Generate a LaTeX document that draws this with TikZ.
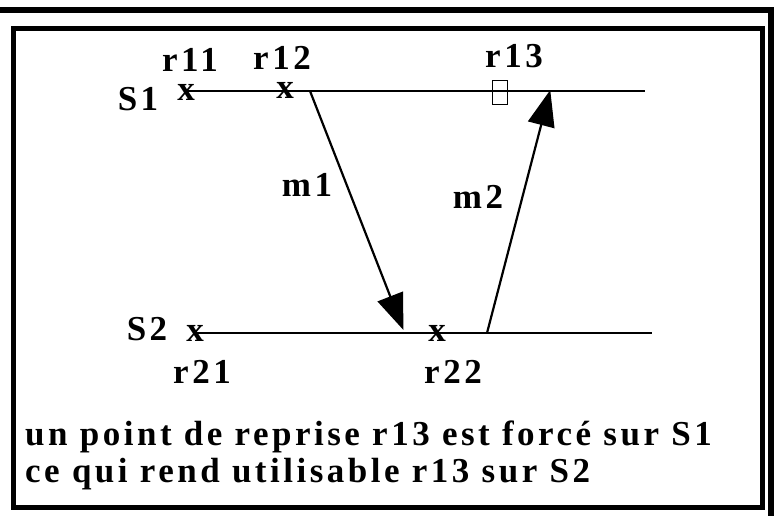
\documentclass[tikz,border=0pt]{standalone}
\usepackage{fontspec}
\setmainfont{Liberation Serif}[LetterSpace=10]
\usetikzlibrary{arrows.meta,positioning}
\tikzset{
  lbl/.style={font=\fontsize{35}{37}\selectfont\bfseries, inner sep=0pt, anchor=base},
  axis/.style={line width=2.2pt},
  msg/.style={line width=2.2pt, -{Triangle[length=36pt,width=27pt]}, shorten >=-1pt},
}
\begin{document}
\begin{tikzpicture}[x=1pt,y=-1pt]
  \useasboundingbox (0,0) rectangle (775,515);
  % frames
  \draw[line width=6pt] (0,9.5) -- (771,9.5) -- (771,520);
  \draw[line width=5pt] (13.5,28.5) rectangle (762.5,507.5);

  % time lines
  \coordinate (s1a) at (185,91);
  \coordinate (s1b) at (645,91);
  \coordinate (s2a) at (193,333);
  \coordinate (s2b) at (652,333);
  \draw[axis] (s1a) -- (s1b);
  \draw[axis] (s2a) -- (s2b);
  \node[lbl] (S1) at (138,110) {S1};
  \node[lbl] (S2) at (147,340) {S2};

  % checkpoints
  \node[lbl] (x11) at (186,100) {x};
  \node[lbl] (x12) at (285,98) {x};
  \node[draw, line width=1.6pt, minimum width=15pt, minimum height=24pt, inner sep=0pt] (b13) at (500,92.5) {};
  \node[lbl] (x21) at (195,341) {x};
  \node[lbl] (x22) at (437,341) {x};
  \node[lbl] (r11) at (190,71) {r11};
  \node[lbl] (r12) at (282,69) {r12};
  \node[lbl] (r13) at (514,67) {r13};
  \node[lbl] (r21) at (202,383) {r21};
  \node[lbl] (r22) at (453,383) {r22};

  % messages
  \coordinate (m1s) at (310,91);
  \coordinate (m1e) at (403,329);
  \coordinate (m2s) at (487,333);
  \coordinate (m2e) at (550,91);
  \draw[msg] (m1s) -- (m1e);
  \draw[msg] (m2s) -- (m2e);
  \node[lbl] (m1) at (307,196) {m1};
  \node[lbl] (m2) at (478,208) {m2};

  \node[lbl, anchor=base west, align=left] (txt) at (25,482)
    {un point de reprise r13 est forcé sur S1\\ce qui rend utilisable r13 sur S2};
\end{tikzpicture}
\end{document}
